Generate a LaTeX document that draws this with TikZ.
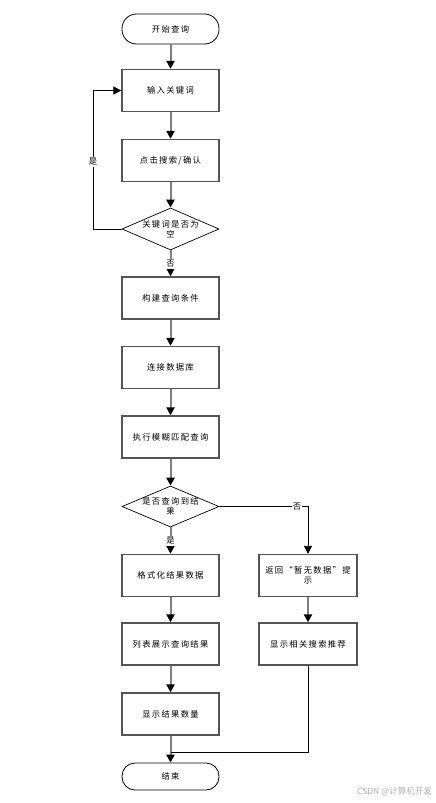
\documentclass[tikz,border=0pt]{standalone}
\usepackage{fontspec}
\setmainfont{Noto Sans CJK SC}
\newfontfamily\cjk[LetterSpace=16]{Noto Sans CJK SC}
\newfontfamily\wmfont{Noto Sans CJK SC}
\usetikzlibrary{arrows.meta,shapes.geometric}
\definecolor{boxc}{HTML}{555555}
\definecolor{linec}{HTML}{7F7F7F}
\definecolor{wmc}{HTML}{B4B4B4}
\begin{document}
\begin{tikzpicture}[x=1pt,y=-1pt,
  txt/.style={font=\cjk\fontsize{8.3}{10.5}\selectfont, align=center, inner sep=0pt},
  box/.style={txt, draw=boxc, line width=1.3pt, minimum width=97pt, minimum height=42pt, fill=white},
  term/.style={txt, draw=black, line width=0.8pt, minimum width=97pt, minimum height=30pt, rounded corners=14.5pt, fill=white},
  dia/.style={shape=diamond, draw=black, line width=0.7pt, minimum width=97pt, minimum height=42pt, inner sep=0pt, fill=white},
  arr/.style={draw=linec, line width=2pt, -{Triangle[length=8pt,width=8pt,color=black]}},
  tarr/.style={draw=black, line width=0.8pt, -{Triangle[length=8pt,width=8pt,color=black]}},
  tline/.style={draw=black, line width=0.8pt},
  lab/.style={txt, fill=white, inner sep=1pt}
]
\useasboundingbox (0,0) rectangle (436,803);
\fill[white] (0,0) rectangle (436,803);

\node[term] (start) at (170.5,29) {开始查询};
\node[box] (b1) at (170.5,90.5) {输入关键词};
\node[box] (b2) at (170.5,160.5) {点击搜索/确认};
\node[dia] (d1) at (170.5,229) {};
\node[txt] (d1t) at (170.5,229) {关键词是否为\\空};
\node[box] (b3) at (170.5,298) {构建查询条件};
\node[box] (b4) at (170.5,367.5) {连接数据库};
\node[box] (b5) at (170.5,437) {执行模糊匹配查询};
\node[dia, minimum height=41pt] (d2) at (170.5,506.5) {};
\node[txt] (d2t) at (170.5,506.5) {是否查询到结\\果};
\node[box] (b6) at (170.5,575.5) {格式化结果数据};
\node[box, minimum width=98pt] (b7) at (308,575.5) {返回“暂无数据”提\\示};
\node[box] (b8) at (170.5,644) {列表展示查询结果};
\node[box, minimum width=98pt] (b9) at (308,644) {显示相关搜索推荐};
\node[box] (b10) at (170.5,714) {显示结果数量};
\node[term, minimum height=27pt, rounded corners=13pt] (end) at (170.5,776.5) {结束};

\coordinate (loop) at (93,229);
\coordinate (merge) at (170.5,752);

\draw[arr] (start) -- (b1);
\draw[arr] (b1) -- (b2);
\draw[arr] (b2) -- (d1);
\draw[tarr] (d1.west) -- (loop) |- (b1.west);
\node[lab] (yes1) at (93,162) {是};
\draw[arr] (d1) -- (b3);
\node[lab] (no1) at (170.5,264) {否};
\draw[arr] (b3) -- (b4);
\draw[arr] (b4) -- (b5);
\draw[arr] (b5) -- (d2);
\draw[arr] (d2) -- (b6);
\node[lab] (yes2) at (170.5,541) {是};
\draw[tarr] (d2.east) -| (b7.north);
\node[lab] (no2) at (297,507) {否};
\draw[arr] (b6) -- (b8);
\draw[arr] (b8) -- (b10);
\draw[arr] (b7) -- (b9);
\draw[arr] (b10) -- (end);
\draw[tline] (b9.south) |- (merge);

\node[font=\wmfont\fontsize{8.5}{10}\selectfont, text=wmc, anchor=east, inner sep=0pt] (wm) at (432,792) {CSDN @计算机开发};
\end{tikzpicture}
\end{document}
